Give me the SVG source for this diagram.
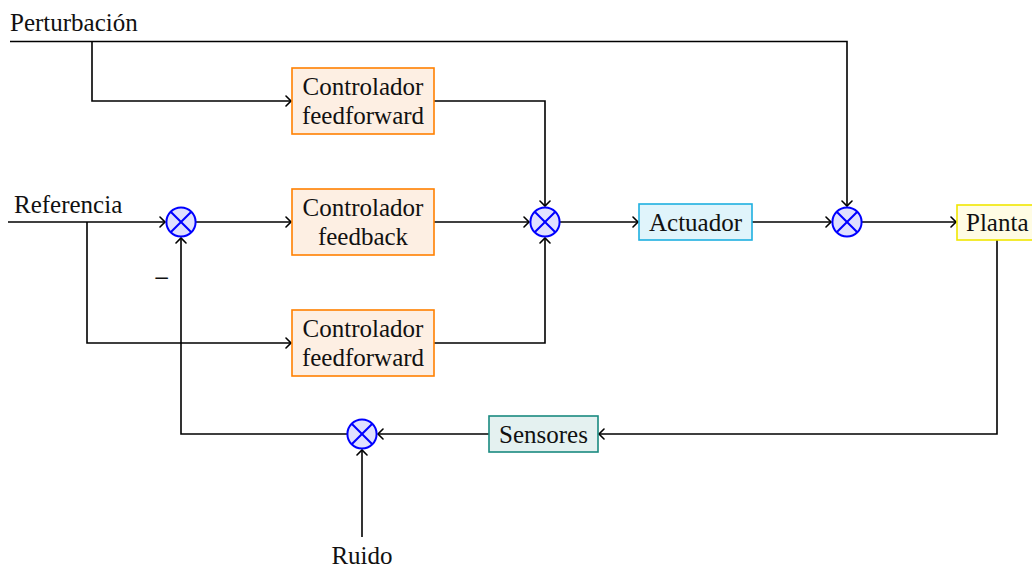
<svg xmlns="http://www.w3.org/2000/svg" width="1032" height="568" viewBox="0 0 1032 568">
  <defs>
    <marker id="arr" viewBox="-6 -6 8 12" markerWidth="8" markerHeight="12" refX="0" refY="0" orient="auto" markerUnits="userSpaceOnUse">
      <path d="M -5 -5 Q -1 -1 0 0 Q -1 1 -5 5" fill="none" stroke="#000" stroke-width="1.6" stroke-linecap="round"/>
    </marker>
    <g id="sum">
      <circle r="14.6" fill="#e0e0ff" stroke="#0000ff" stroke-width="2"/>
      <path d="M -10.3 -10.3 L 10.3 10.3 M -10.3 10.3 L 10.3 -10.3" stroke="#0000ff" stroke-width="2"/>
    </g>
  </defs>
  <style>
    text { font-family: "Liberation Serif", "Times New Roman", serif; font-size: 25px; fill: #111; }
    .mid { text-anchor: middle; }
    .wire { fill: none; stroke: #000; stroke-width: 1.6; }
    .ctl { fill: #fdefe3; stroke: #ff8000; stroke-width: 1.6; }
    .act { fill: #e0f4fb; stroke: #1fb0e0; stroke-width: 1.6; }
    .plant { fill: #fffce4; stroke: #f0e600; stroke-width: 1.6; }
    .sens { fill: #e4f1f0; stroke: #1a8a80; stroke-width: 1.6; }
  </style>

  <rect width="1032" height="568" fill="#fff"/>

  <!-- connectors -->
  <g id="connectors">
    <path class="wire" d="M 8 222 H 165" marker-end="url(#arr)"/>
    <path class="wire" d="M 87 222 V 343 H 291" marker-end="url(#arr)"/>
    <path class="wire" d="M 196 222 H 291" marker-end="url(#arr)"/>
    <path class="wire" d="M 434 222 H 529" marker-end="url(#arr)"/>
    <path class="wire" d="M 434 101 H 545 V 206" marker-end="url(#arr)"/>
    <path class="wire" d="M 434 343 H 545 V 238" marker-end="url(#arr)"/>
    <path class="wire" d="M 560 222 H 638" marker-end="url(#arr)"/>
    <path class="wire" d="M 752 222 H 831" marker-end="url(#arr)"/>
    <path class="wire" d="M 862 222 H 956" marker-end="url(#arr)"/>
    <path class="wire" d="M 10 41.5 H 847 V 206" marker-end="url(#arr)"/>
    <path class="wire" d="M 92 41.5 V 101 H 291" marker-end="url(#arr)"/>
    <path class="wire" d="M 997 240 V 434 H 599" marker-end="url(#arr)"/>
    <path class="wire" d="M 489 434 H 378" marker-end="url(#arr)"/>
    <path class="wire" d="M 347 434 H 181 V 238" marker-end="url(#arr)"/>
    <path class="wire" d="M 362 537 V 450" marker-end="url(#arr)"/>
  </g>

  <!-- inputs -->
  <text x="10" y="31">Perturbación</text>
  <text x="14" y="213">Referencia</text>
  <text x="362" y="564" class="mid">Ruido</text>
  <text x="161.5" y="287" class="mid" style="font-size:27px">−</text>

  <!-- summing junctions -->
  <g id="sum1"><use href="#sum" x="181" y="222"/></g>
  <g id="sum2"><use href="#sum" x="545" y="222"/></g>
  <g id="sum3"><use href="#sum" x="847" y="222"/></g>
  <g id="sum4"><use href="#sum" x="362" y="434"/></g>

  <!-- blocks -->
  <g id="ff-top">
    <rect class="ctl" x="292" y="68" width="142" height="66"/>
    <text x="363" y="95" class="mid">Controlador</text>
    <text x="363" y="124" class="mid">feedforward</text>
  </g>
  <g id="fb">
    <rect class="ctl" x="292" y="189" width="142" height="66"/>
    <text x="363" y="216" class="mid">Controlador</text>
    <text x="363" y="245" class="mid">feedback</text>
  </g>
  <g id="ff-bottom">
    <rect class="ctl" x="292" y="310" width="142" height="66"/>
    <text x="363" y="337" class="mid">Controlador</text>
    <text x="363" y="366" class="mid">feedforward</text>
  </g>
  <g id="actuador">
    <rect class="act" x="639" y="204" width="113" height="36"/>
    <text x="695.5" y="231" class="mid">Actuador</text>
  </g>
  <g id="planta">
    <rect class="plant" x="957" y="205" width="80" height="35"/>
    <text x="966" y="231">Planta</text>
  </g>
  <g id="sensores">
    <rect class="sens" x="489" y="416" width="109" height="36"/>
    <text x="543.5" y="443" class="mid">Sensores</text>
  </g>
</svg>
